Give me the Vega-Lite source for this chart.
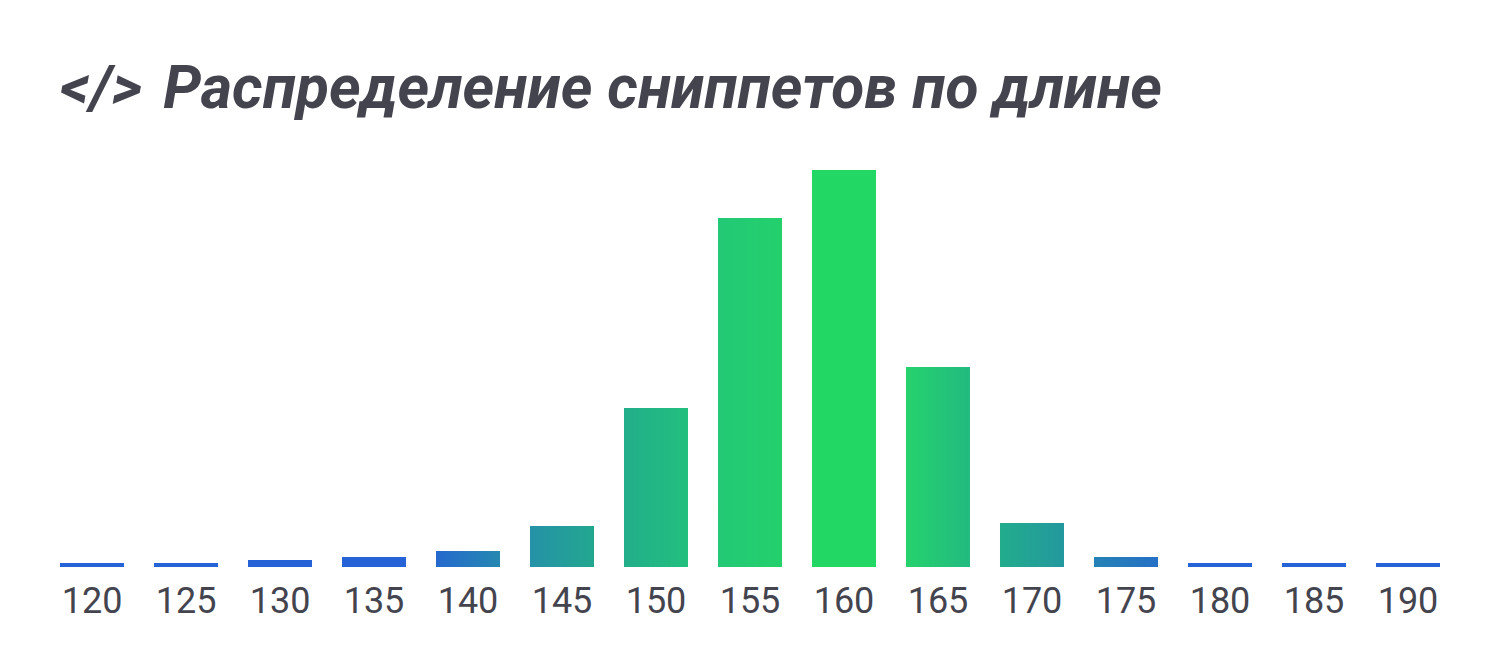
{
  "$schema": "https://vega.github.io/schema/vega-lite/v6.json",
  "description": "Распределение сниппетов по длине",
  "width": 1380,
  "height": 397,
  "autosize": "none",
  "padding": {"left": 60, "top": 170, "right": 60, "bottom": 103},
  "background": "white",
  "view": {"stroke": null},
  "title": {
    "text": "</> \u200aРаспределение сниппетов по длине",
    "anchor": "start",
    "frame": "group",
    "font": "Roboto",
    "fontSize": 60.5,
    "fontWeight": "bold",
    "fontStyle": "italic",
    "color": "#44444F",
    "offset": 50
  },
  "data": {
    "values": [
      {"length": "120", "count": 4},
      {"length": "125", "count": 4},
      {"length": "130", "count": 7},
      {"length": "135", "count": 10},
      {"length": "140", "count": 16},
      {"length": "145", "count": 41},
      {"length": "150", "count": 159},
      {"length": "155", "count": 349},
      {"length": "160", "count": 397},
      {"length": "165", "count": 200},
      {"length": "170", "count": 44},
      {"length": "175", "count": 10},
      {"length": "180", "count": 4},
      {"length": "185", "count": 4},
      {"length": "190", "count": 4}
    ]
  },
  "mark": {"type": "bar"},
  "encoding": {
    "x": {
      "field": "length",
      "type": "ordinal",
      "title": null,
      "scale": {"paddingInner": 0.319, "paddingOuter": 0},
      "axis": {
        "labelAngle": 0,
        "labelFont": "Roboto",
        "labelFontSize": 36,
        "labelColor": "#44444F",
        "labelPadding": 17,
        "domain": false,
        "ticks": false
      }
    },
    "y": {
      "field": "count",
      "type": "quantitative",
      "title": null,
      "scale": {"domain": [0, 397]},
      "axis": null
    },
    "fill": {
      "condition": [
        {"test": "datum.length == '140'", "value": {"gradient": "linear", "x1": 0, "x2": 1, "y1": 0, "y2": 0, "stops": [{"offset": 0, "color": "#2569CE"}, {"offset": 1, "color": "#2588B0"}]}},
        {"test": "datum.length == '145'", "value": {"gradient": "linear", "x1": 0, "x2": 1, "y1": 0, "y2": 0, "stops": [{"offset": 0, "color": "#2592A8"}, {"offset": 1, "color": "#22A78F"}]}},
        {"test": "datum.length == '150'", "value": {"gradient": "linear", "x1": 0, "x2": 1, "y1": 0, "y2": 0, "stops": [{"offset": 0, "color": "#22AE8A"}, {"offset": 1, "color": "#22BF7E"}]}},
        {"test": "datum.length == '155'", "value": {"gradient": "linear", "x1": 0, "x2": 1, "y1": 0, "y2": 0, "stops": [{"offset": 0, "color": "#23C976"}, {"offset": 1, "color": "#23D06C"}]}},
        {"test": "datum.length == '160'", "value": "#23D764"},
        {"test": "datum.length == '165'", "value": {"gradient": "linear", "x1": 0, "x2": 1, "y1": 0, "y2": 0, "stops": [{"offset": 0, "color": "#26D26D"}, {"offset": 1, "color": "#22BA80"}]}},
        {"test": "datum.length == '170'", "value": {"gradient": "linear", "x1": 0, "x2": 1, "y1": 0, "y2": 0, "stops": [{"offset": 0, "color": "#22AC8C"}, {"offset": 1, "color": "#23989E"}]}},
        {"test": "datum.length == '175'", "value": {"gradient": "linear", "x1": 0, "x2": 1, "y1": 0, "y2": 0, "stops": [{"offset": 0, "color": "#2482B5"}, {"offset": 1, "color": "#2570C6"}]}}
      ],
      "value": "#2563D6"
    }
  }
}
